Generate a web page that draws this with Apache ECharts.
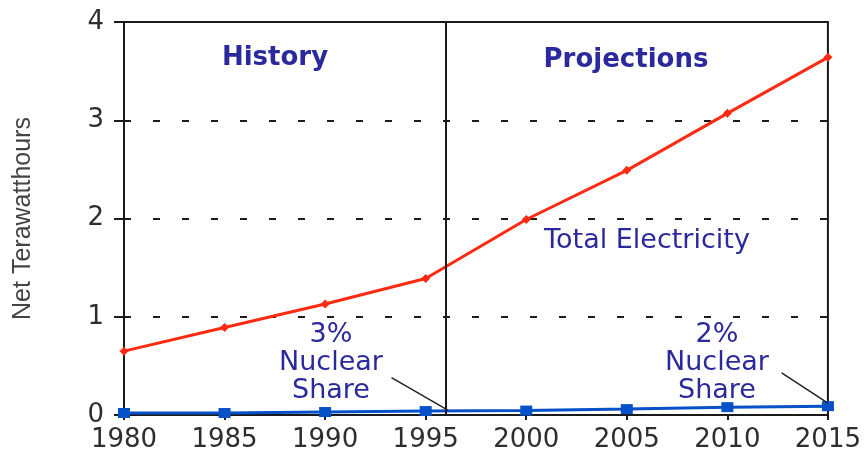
<!DOCTYPE html>
<html>
<head>
<meta charset="utf-8">
<script src="https://cdn.jsdelivr.net/npm/echarts@6/dist/echarts.min.js"></script>
<style>
  html, body { margin: 0; padding: 0; background: #fff; }
  #chart { width: 864px; height: 453px; }
</style>
</head>
<body>
<div id="chart"></div>
<script>
// Net electricity generation, history and projections (terawatt-hours)
const years = [1980, 1985, 1990, 1995, 2000, 2005, 2010, 2015];
const totalElectricity = [0.65, 0.89, 1.13, 1.39, 1.99, 2.49, 3.07, 3.64];
const nuclearGeneration = [0.02, 0.02, 0.03, 0.04, 0.045, 0.06, 0.08, 0.09];
const historyEndYear = 1996;

// leader lines from the share notes to the nuclear curve
const leader1995 = [[1993.3, 0.38], [1996.1, 0.05]];
const leader2015 = [[2012.7, 0.43], [2015, 0.12]];

const FONT = 'DejaVu Sans';
const NOTE_COLOR = '#2a2a9c';

const chart = echarts.init(document.getElementById('chart'), null, { renderer: 'canvas' });

const pairs = (ys) => years.map((y, i) => [y, ys[i]]);

function note(x, y, text, font, extra) {
  return {
    type: 'text', x: x, y: y, silent: true, z: 10,
    style: Object.assign({ text: text, font: font, fill: NOTE_COLOR,
      align: 'center', verticalAlign: 'middle' }, extra || {})
  };
}

chart.setOption({
  animation: false,
  backgroundColor: '#fff',
  grid: {
    left: 124, right: 36, top: 22, bottom: 38,
    show: true, borderColor: '#1a1a1a', borderWidth: 2, backgroundColor: 'transparent'
  },
  xAxis: {
    type: 'value', min: 1980, max: 2015, interval: 5,
    axisLine: { show: true, lineStyle: { color: '#1a1a1a', width: 2 } },
    axisTick: { show: true, length: 5, lineStyle: { color: '#1a1a1a', width: 2 } },
    axisLabel: { color: '#2e2e2e', fontFamily: FONT, fontSize: 26, margin: 12,
      formatter: (v) => String(v) },
    splitLine: { show: false }
  },
  yAxis: {
    type: 'value', min: 0, max: 4, interval: 1,
    name: 'Net Terawatthours', nameLocation: 'middle', nameGap: 88, nameRotate: 90,
    nameTextStyle: { color: '#444', fontFamily: 'Liberation Sans', fontSize: 25 },
    axisLine: { show: true, lineStyle: { color: '#1a1a1a', width: 2 } },
    axisTick: { show: true, length: 10, lineStyle: { color: '#1a1a1a', width: 2 } },
    axisLabel: { color: '#2e2e2e', fontFamily: FONT, fontSize: 26, margin: 20 },
    splitLine: { show: true, lineStyle: { color: '#1a1a1a', width: 2, type: [7, 22] } }
  },
  series: [
    {
      name: 'Total Electricity', type: 'line', data: pairs(totalElectricity),
      symbol: 'diamond', symbolSize: 9,
      itemStyle: { color: '#ff2a12' },
      lineStyle: { color: '#ff2a12', width: 3 },
      z: 3,
      markLine: {
        silent: true, symbol: 'none', animation: false,
        label: { show: false },
        lineStyle: { color: '#1a1a1a', width: 2, type: 'solid' },
        data: [{ xAxis: historyEndYear }]
      }
    },
    {
      name: 'Nuclear', type: 'line', data: pairs(nuclearGeneration),
      symbol: 'rect', symbolSize: [12, 10],
      itemStyle: { color: '#0650c8' },
      lineStyle: { color: '#0650c8', width: 3 },
      z: 4,
      markLine: {
        silent: true, symbol: 'none', animation: false,
        label: { show: false },
        lineStyle: { color: '#222', width: 1.5, type: 'solid' },
        data: [
          [{ coord: leader1995[0] }, { coord: leader1995[1] }],
          [{ coord: leader2015[0] }, { coord: leader2015[1] }]
        ]
      }
    }
  ],
  graphic: [
    note(275, 58, 'History', 'bold 26px "DejaVu Sans"'),
    note(626, 60, 'Projections', 'bold 26px "DejaVu Sans"'),
    note(647, 241, 'Total Electricity', '27px "DejaVu Sans"'),
    note(331, 363, '3%\nNuclear\nShare', '27px "DejaVu Sans"', { lineHeight: 28 }),
    note(717, 363, '2%\nNuclear\nShare', '27px "DejaVu Sans"', { lineHeight: 28 })
  ]
});
</script>
</body>
</html>
